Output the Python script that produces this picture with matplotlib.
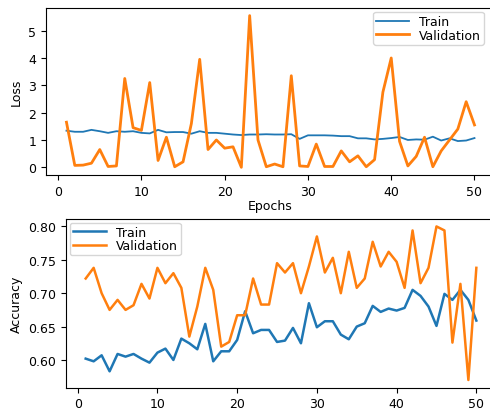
import numpy as np
import matplotlib
matplotlib.use("Agg")
import matplotlib.pyplot as plt

epochs = np.arange(1, 51)

train_loss = [1.34, 1.30, 1.30, 1.37, 1.32, 1.26, 1.32, 1.30, 1.32, 1.26,
              1.24, 1.37, 1.28, 1.29, 1.29, 1.23, 1.32, 1.26, 1.26, 1.23,
              1.20, 1.18, 1.20, 1.20, 1.21, 1.20, 1.20, 1.21, 1.04, 1.17,
              1.17, 1.17, 1.16, 1.14, 1.14, 1.06, 1.06, 1.02, 1.04, 1.07,
              1.11, 1.00, 1.02, 1.01, 1.12, 0.98, 1.06, 0.96, 0.98, 1.07]
val_loss = [1.65, 0.07, 0.08, 0.15, 0.65, 0.03, 0.05, 3.25, 1.45, 1.35,
            3.10, 0.25, 1.10, 0.02, 0.20, 1.60, 3.95, 0.65, 1.00, 0.70,
            0.75, 0.00, 5.55, 1.00, 0.02, 0.12, 0.02, 3.35, 0.05, 0.03,
            0.85, 0.03, 0.03, 0.60, 0.20, 0.42, 0.02, 0.28, 2.75, 4.00,
            0.95, 0.05, 0.40, 1.10, 0.02, 0.60, 1.00, 1.40, 2.40, 1.55]

train_acc = [0.602, 0.598, 0.607, 0.583, 0.609, 0.605, 0.609, 0.602, 0.596, 0.611,
             0.617, 0.600, 0.632, 0.625, 0.616, 0.654, 0.598, 0.613, 0.613, 0.630,
             0.673, 0.640, 0.645, 0.645, 0.627, 0.629, 0.648, 0.625, 0.685, 0.649,
             0.658, 0.658, 0.638, 0.631, 0.650, 0.655, 0.681, 0.672, 0.677, 0.674,
             0.678, 0.705, 0.696, 0.680, 0.651, 0.699, 0.690, 0.705, 0.690, 0.659]
val_acc = [0.722, 0.738, 0.700, 0.675, 0.690, 0.675, 0.682, 0.714, 0.692, 0.738,
           0.715, 0.730, 0.708, 0.635, 0.680, 0.738, 0.705, 0.620, 0.627, 0.667,
           0.667, 0.722, 0.683, 0.683, 0.745, 0.731, 0.745, 0.700, 0.740, 0.785,
           0.731, 0.753, 0.700, 0.762, 0.708, 0.722, 0.777, 0.740, 0.762, 0.747,
           0.708, 0.794, 0.715, 0.738, 0.800, 0.794, 0.626, 0.714, 0.570, 0.738]

fig = plt.figure(figsize=(4.9, 4.1), dpi=100)

leg_kw = dict(fontsize=9, labelspacing=0.05, borderpad=0.25,
              handlelength=2.6, borderaxespad=0.3)

# top panel: loss
ax1 = fig.add_axes([0.094, 0.571, 0.916, 0.407])
ax1.plot(epochs, train_loss, color="#1f77b4", lw=1.3, label="Train")
ax1.plot(epochs, val_loss, color="#ff7f0e", lw=2.0, label="Validation")
ax1.set_xticks([0, 10, 20, 30, 40, 50])
ax1.set_yticks([0, 1, 2, 3, 4, 5])
ax1.set_xlabel("Epochs", fontsize=9, labelpad=1)
ax1.set_ylabel("Loss", fontsize=9)
ax1.tick_params(labelsize=9)
ax1.legend(loc="upper right", bbox_to_anchor=(0.984, 1.0), **leg_kw)

# bottom panel: accuracy
ax2 = fig.add_axes([0.135, 0.052, 0.877, 0.412])
ax2.plot(epochs, train_acc, color="#1f77b4", lw=1.8, label="Train")
ax2.plot(epochs, val_acc, color="#ff7f0e", lw=1.8, label="Validation")
ax2.set_xticks([0, 10, 20, 30, 40, 50])
ax2.set_yticks([0.60, 0.65, 0.70, 0.75, 0.80])
ax2.set_yticklabels(["0.60", "0.65", "0.70", "0.75", "0.80"])
ax2.set_xlabel("Epochs", fontsize=9, labelpad=1)
ax2.set_ylabel("Accuracy", fontsize=9)
ax2.tick_params(labelsize=9)
ax2.legend(loc="upper left", **leg_kw)

fig.savefig("out.png", dpi=100)
